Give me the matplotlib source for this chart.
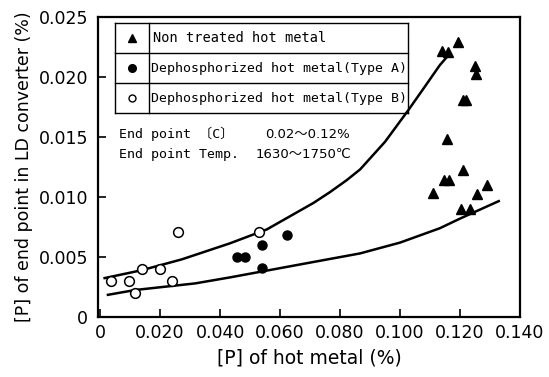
import matplotlib
matplotlib.use("Agg")
import matplotlib.pyplot as plt
from matplotlib.lines import Line2D

# Data
typeB_x = [0.0036, 0.0098, 0.0117, 0.0140, 0.0200, 0.0240, 0.0259, 0.0531]
typeB_y = [0.0030, 0.0030, 0.0020, 0.0040, 0.0040, 0.0030, 0.0071, 0.0071]

typeA_x = [0.0458, 0.0482, 0.0540, 0.0540, 0.0622]
typeA_y = [0.0050, 0.0050, 0.0060, 0.0041, 0.0068]

non_x = [0.1141, 0.1161, 0.1194, 0.1250, 0.1252, 0.1211, 0.1219, 0.1156,
         0.1209, 0.1147, 0.1164, 0.1109, 0.1291, 0.1258, 0.1202, 0.1233]
non_y = [0.0222, 0.0221, 0.0229, 0.0209, 0.02025, 0.0181, 0.0181, 0.0148,
         0.01225, 0.0114, 0.0114, 0.01036, 0.0110, 0.01022, 0.0090, 0.0090]

upper_x = [0.0011, 0.0139, 0.0272, 0.0433, 0.0556, 0.0711, 0.0766,
           0.0822, 0.0867, 0.0950, 0.1028, 0.1080, 0.1133, 0.1161]
upper_y = [0.00322, 0.0039, 0.0048, 0.00614, 0.0073, 0.0095, 0.0104,
           0.0114, 0.0123, 0.0146, 0.01725, 0.0191, 0.0210, 0.0218]

lower_x = [0.0022, 0.0117, 0.0317, 0.0433, 0.0656, 0.0867, 0.1000, 0.1133, 0.1200, 0.1333]
lower_y = [0.00183, 0.00225, 0.0028, 0.0033, 0.00433, 0.0053, 0.0062, 0.0074, 0.0082, 0.0097]

xticks = [0, 0.020, 0.040, 0.060, 0.080, 0.100, 0.120, 0.140]
xticklabels = ["0", "0.020", "0.040", "0.060", "0.080", "0.100", "0.120", "0.140"]
yticks = [0, 0.005, 0.010, 0.015, 0.020, 0.025]
yticklabels = ["0", "0.005", "0.010", "0.015", "0.020", "0.025"]

legend_labels = ["Non treated hot metal",
                 "Dephosphorized hot metal(Type A)",
                 "Dephosphorized hot metal(Type B)"]

MONO = ["DejaVu Sans Mono", "Noto Sans CJK JP"]
SANS = ["DejaVu Sans", "Noto Sans CJK JP"]

fig = plt.figure(figsize=(5.49, 3.77), dpi=100)
ax = fig.add_axes([98/549, 1-317/377, 422/549, 300/377])

ax.plot(upper_x, upper_y, color="black", lw=1.8, solid_capstyle="butt")
ax.plot(lower_x, lower_y, color="black", lw=1.8, solid_capstyle="butt")

ax.plot(non_x, non_y, linestyle="none", marker="^", color="black", markersize=7)
ax.plot(typeA_x, typeA_y, linestyle="none", marker="o", color="black", markersize=6.5)
ax.plot(typeB_x, typeB_y, linestyle="none", marker="o", markerfacecolor="white",
        markeredgecolor="black", markersize=7, markeredgewidth=1.1)

ax.set_xlim(-0.0007, 0.140)
ax.set_ylim(0, 0.025)
ax.set_xticks(xticks)
ax.set_xticklabels(xticklabels)
ax.set_yticks(yticks)
ax.set_yticklabels(yticklabels)
ax.tick_params(direction="in", length=6, width=1.2, labelsize=12.5, pad=5)
ax.tick_params(axis="y", pad=7)
for s in ax.spines.values():
    s.set_linewidth(1.6)

ax.set_xlabel("[P] of hot metal (%)", fontsize=13.5, labelpad=5)
ax.set_ylabel("[P] of end point in LD converter (%)", fontsize=12.5, labelpad=4)

# legend table
T = ax.transAxes
x0, x1, xd = 0.0403, 0.7346, 0.1209
ys = [0.979, 0.879, 0.779, 0.681]
for y in ys:
    ax.add_line(Line2D([x0, x1], [y, y], transform=T, color="black", lw=1.0))
for x in (x0, xd, x1):
    ax.add_line(Line2D([x, x], [ys[-1], ys[0]], transform=T, color="black", lw=1.0))
cx = (x0 + xd) / 2
ax.plot([cx], [0.929], transform=T, marker="^", color="black", markersize=6)
ax.plot([cx], [0.829], transform=T, marker="o", color="black", markersize=5.5)
ax.plot([cx], [0.729], transform=T, marker="o", markerfacecolor="white",
        markeredgecolor="black", markersize=5, markeredgewidth=1.0)
ax.text(0.1303, 0.929, legend_labels[0], transform=T, va="center", ha="left",
        fontsize=9.8, family=MONO)
ax.text(0.1256, 0.829, legend_labels[1], transform=T, va="center", ha="left",
        fontsize=9.5, family=MONO)
ax.text(0.1256, 0.729, legend_labels[2], transform=T, va="center", ha="left",
        fontsize=9.5, family=MONO)

ax.text(0.0498, 0.61, "End point 〔C〕", transform=T, va="center", ha="left",
        fontsize=9.5, family=MONO)
ax.text(0.0498, 0.543, "End point Temp.", transform=T, va="center", ha="left",
        fontsize=9.5, family=MONO)
ax.text(0.3957, 0.61, "0.02～0.12%", transform=T, va="center", ha="left",
        fontsize=9.5, family=SANS)
ax.text(0.3744, 0.543, "1630～1750℃", transform=T, va="center", ha="left",
        fontsize=9.5, family=SANS)

fig.savefig("out.png", dpi=100)
